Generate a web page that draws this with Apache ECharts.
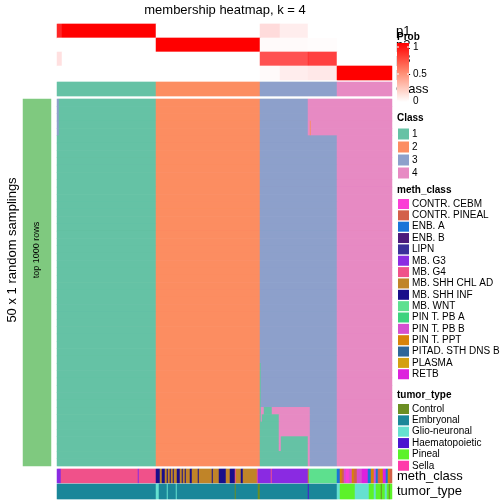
<!DOCTYPE html>
<html><head><meta charset="utf-8">
<script src="https://cdn.jsdelivr.net/npm/echarts@6/dist/echarts.min.js"></script>
<style>html,body{margin:0;padding:0;background:#fff}#c{width:504px;height:504px}</style>
</head><body><div id="c"></div>
<script>
// ---------- data ----------
const classNames = ['1','2','3','4'];
const classColors = ['#66C2A5','#FC8D62','#8DA0CB','#E78AC3'];
const methNames = ['CONTR. CEBM','CONTR. PINEAL','ENB. A','ENB. B','LIPN','MB. G3','MB. G4','MB. SHH CHL AD','MB. SHH INF','MB. WNT','PIN T. PB A','PIN T. PB B','PIN T. PPT','PITAD. STH DNS B','PLASMA','RETB'];
const methColors = ['#FB3FD6','#D3604A','#1A74D8','#4B1A7C','#3A2F9A','#8B2BE2','#F0528A','#C08428','#1A0F8A','#5EE08F','#3DD37E','#D64FD0','#D8820A','#2E6699','#D4A012','#DD22DD'];
const tumorNames = ['Control','Embryonal','Glio-neuronal','Haematopoietic','Pineal','Sella'];
const tumorColors = ['#6B8E23','#1B8799','#66E0D0','#4B16D0','#5CF22A','#FF3BAA'];
const probRowNames = ['p1','p2','p3','p4'];
const probTicks = ['1','0.5','0'];
const sideLabel = 'top 1000 rows';
const samplingsLabel = '50 x 1 random samplings';

// run-length rows: [value, number of samples], left to right
const p1Runs = [[0.85,5],[1,94],[0,104],[0.14,20],[0.07,28],[0,29],[0,55]];
const p2Runs = [[0,99],[1,104],[0.02,48],[0.01,29],[0,55]];
const p3Runs = [[0.12,5],[0,94],[0,104],[0.68,48],[0.8,1],[0.75,28],[0,55]];
const p4Runs = [[0,99],[0,104],[0.02,20],[0.07,28],[0.09,29],[1,55]];
const classRuns = [[1,99],[2,104],[3,77],[4,55]];

const methRuns = [
 ['MB. G3',4],['MB. G4',77],['MB. G3',1],['MB. G4',17],
 ['MB. SHH INF',4],['MB. SHH CHL AD',2],['MB. SHH INF',3],['MB. SHH CHL AD',2],['MB. SHH INF',1],
 ['MB. SHH CHL AD',2],['MB. SHH INF',1],['MB. SHH CHL AD',2],['MB. SHH INF',1],['MB. SHH CHL AD',3],
 ['MB. SHH INF',3],['MB. SHH CHL AD',2],['MB. SHH INF',1],['MB. SHH CHL AD',2],['MB. SHH INF',1],
 ['MB. SHH CHL AD',4],['MB. SHH INF',2],['MB. SHH CHL AD',6],['MB. SHH INF',1],['MB. SHH CHL AD',13],
 ['MB. SHH INF',1],['MB. SHH CHL AD',6],['MB. SHH INF',7],['MB. SHH CHL AD',4],['MB. SHH INF',5],
 ['MB. G4',1],['MB. SHH CHL AD',5],['MB. SHH INF',2],['MB. SHH CHL AD',14],['MB. G4',1],['MB. G3',2],
 ['MB. G3',11],['MB. G4',1],['MB. G3',36],['MB. SHH CHL AD',1],['MB. WNT',28],
 ['ENB. A',3],['PIN T. PPT',2],['CONTR. PINEAL',2],['PIN T. PB B',2],['CONTR. CEBM',3],['PIN T. PB B',3],
 ['PIN T. PPT',2],['CONTR. PINEAL',3],['PIN T. PB B',5],['RETB',6],['ENB. A',3],['PIN T. PPT',3],
 ['PIN T. PB B',2],['ENB. A',2],['CONTR. PINEAL',2],['PIN T. PPT',3],['RETB',3],['ENB. A',2],
 ['PIN T. PPT',2],['CONTR. PINEAL',2]
];
const tumorRuns = [
 ['Embryonal',99],
 ['Glio-neuronal',3],['Embryonal',8],['Glio-neuronal',1],['Embryonal',8],['Glio-neuronal',1],
 ['Embryonal',58],['Control',1],['Embryonal',22],['Control',2],
 ['Embryonal',48],['Haematopoietic',1],['Embryonal',28],
 ['Glio-neuronal',3],['Pineal',15],['Glio-neuronal',14],['Pineal',5],['Glio-neuronal',2],['Pineal',5],
 ['Control',1],['Pineal',3],['Glio-neuronal',2],['Pineal',2],['Control',1],['Pineal',2]
];
// main heatmap: [number of identical sampling rows, runs of class per sample]
const mainRowGroups = [
 [3, [[3,2],[1,97],[2,104],[3,48],[4,29],[4,55]]],
 [2, [[3,2],[1,97],[2,104],[3,48],[4,2],[2,1],[4,26],[4,55]]],
 [31,[[1,99],[2,104],[3,77],[4,55]]],
 [6, [[1,99],[2,104],[1,1],[3,76],[4,55]]],
 [1, [[1,99],[2,104],[1,1],[4,3],[1,8],[4,38],[3,27],[4,55]]],
 [1, [[1,99],[2,104],[1,1],[4,1],[1,17],[4,31],[3,27],[4,55]]],
 [2, [[1,99],[2,104],[1,19],[4,31],[3,27],[4,55]]],
 [2, [[1,99],[2,104],[1,19],[4,2],[1,27],[4,2],[3,27],[4,55]]],
 [2, [[1,99],[2,104],[1,48],[4,2],[3,27],[4,55]]]
];

// ---------- build ----------
function expand(runs){ const out=[]; runs.forEach(([v,n])=>{for(let i=0;i<n;i++) out.push(v);}); return out; }
const N = expand(classRuns).length;
const cols = Array.from({length:N},(_,i)=>i);

const probData = [];
[p1Runs,p2Runs,p3Runs,p4Runs].forEach((r,row)=>expand(r).forEach((v,i)=>probData.push([i,row,v])));
const classData = expand(classRuns).map((v,i)=>[i,0,v]);
const methData = expand(methRuns).map((v,i)=>[i,0,methNames.indexOf(v)]);
const tumorData = expand(tumorRuns).map((v,i)=>[i,0,tumorNames.indexOf(v)]);
const mainData = [];
let rowIdx = 0;
mainRowGroups.forEach(([cnt,runs])=>{
  const vals = expand(runs);
  for(let k=0;k<cnt;k++){ vals.forEach((v,i)=>mainData.push([i,rowIdx,v])); rowIdx++; }
});
const nRows = rowIdx;
const rowsCat = Array.from({length:nRows},(_,i)=>i);

const FONT = "'Liberation Sans', Arial, sans-serif";
const L = 57, W = 335;
const grids = [
  {left:L, width:W, top:24, height:56},
  {left:L, width:W, top:82, height:14},
  {left:L, width:W, top:99, height:367},
  {left:L, width:W, top:469, height:14},
  {left:L, width:W, top:484, height:15},
  {left:23, width:28, top:99, height:367}
];
const xAxes = grids.map((g,i)=>({type:'category', gridIndex:i, data: i===5?[0]:cols, show:false}));
const yAxes = [
  {type:'category', gridIndex:0, data:[0,1,2,3], inverse:true, show:false},
  {type:'category', gridIndex:1, data:[0], show:false},
  {type:'category', gridIndex:2, data:rowsCat, inverse:true, show:false},
  {type:'category', gridIndex:3, data:[0], show:false},
  {type:'category', gridIndex:4, data:[0], show:false},
  {type:'category', gridIndex:5, data:[0], show:false}
];
function hm(i,data){ return {type:'heatmap', xAxisIndex:i, yAxisIndex:i, data, progressive:0, itemStyle:{borderWidth:0}, emphasis:{disabled:true}, silent:true}; }
const series = [hm(0,probData),hm(1,classData),hm(2,mainData),hm(3,methData),hm(4,tumorData),hm(5,[[0,0,1]])];

const visualMap = [
  {type:'continuous', min:0, max:1, seriesIndex:0, dimension:2, show:false, inRange:{color:['#FFFFFF','#FF0000']}},
  {type:'piecewise', seriesIndex:[1,2], dimension:2, show:false, pieces: classColors.map((c,i)=>({value:i+1,color:c}))},
  {type:'piecewise', seriesIndex:3, dimension:2, show:false, pieces: methColors.map((c,i)=>({value:i,color:c}))},
  {type:'piecewise', seriesIndex:4, dimension:2, show:false, pieces: tumorColors.map((c,i)=>({value:i,color:c}))},
  {type:'piecewise', seriesIndex:5, dimension:2, show:false, pieces: [{value:1,color:'#7FC97F'}]}
];

// ---------- legends / labels ----------
const g = [];
function txt(s,x,y,size,opts){ g.push(Object.assign({type:'text', x, y, z:opts&&opts.z||10, rotation:opts&&opts.rotation||0,
  style:{text:s, fill:'#000', font:(opts&&opts.bold?'bold ':'')+size+'px '+FONT, align:opts&&opts.align||'left', verticalAlign:'middle'}})); }
txt('membership heatmap, k = 4', 225, 10, 13, {align:'center'});
txt(samplingsLabel, 12, 250, 13, {align:'center', rotation:Math.PI/2});
txt(sideLabel, 37, 250, 9, {align:'center', rotation:Math.PI/2, z:20});
// annotation names on the right (partly covered by the colour bar, as in the reference)
probRowNames.forEach((s,i)=>txt(s, 396, 31+14*i, 13));
txt('Class', 396, 89, 13);
txt('meth_class', 397, 476, 13);
txt('tumor_type', 397, 491.5, 13);
// Prob colour bar
g.push({type:'rect', z:15, shape:{x:397,y:43,width:12,height:59}, style:{fill:{type:'linear',x:0,y:0,x2:0,y2:1,colorStops:[{offset:0,color:'#FF0000'},{offset:0.5,color:'#FF8C72'},{offset:1,color:'#FFFFFF'}]}}});
[47,74,101].forEach((y,i)=>{
  g.push({type:'line', z:16, shape:{x1:397,y1:y,x2:399,y2:y}, style:{stroke:'#fff',lineWidth:1}});
  g.push({type:'line', z:16, shape:{x1:407,y1:y,x2:409,y2:y}, style:{stroke:'#fff',lineWidth:1}});
  txt(probTicks[i], 413, y, 10, {z:17});
});
txt('Prob', 397, 37, 10, {bold:true, z:17});
// Class legend
txt('Class', 397, 118, 10, {bold:true});
classNames.forEach((s,i)=>{ const y=134+13*i; g.push({type:'rect', shape:{x:398,y:y-5.5,width:11,height:11}, style:{fill:classColors[i]}}); txt(s,412,y,10); });
// meth_class legend
txt('meth_class', 397, 190, 10, {bold:true});
methNames.forEach((s,i)=>{ const y=204+11.35*i; g.push({type:'rect', shape:{x:398,y:y-5,width:11,height:10}, style:{fill:methColors[i]}}); txt(s,412,y,10); });
// tumor_type legend
txt('tumor_type', 397, 395, 10, {bold:true});
tumorNames.forEach((s,i)=>{ const y=409+11.35*i; g.push({type:'rect', shape:{x:398,y:y-5,width:11,height:10}, style:{fill:tumorColors[i]}}); txt(s,412,y,10); });

const chart = echarts.init(document.getElementById('c'), null, {renderer:'canvas'});
chart.setOption({animation:false, backgroundColor:'#fff', grid:grids, xAxis:xAxes, yAxis:yAxes, visualMap, series, graphic:g});
</script></body></html>
